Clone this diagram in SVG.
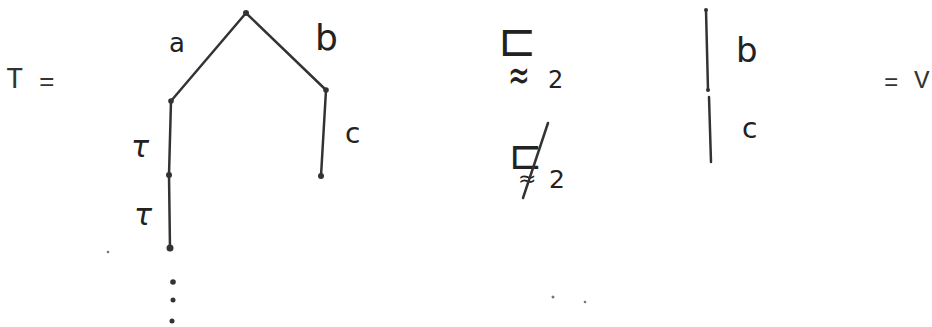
<svg xmlns="http://www.w3.org/2000/svg" width="932" height="327" viewBox="0 0 932 327">
<style>
.typed{font-family:"Liberation Mono",monospace;fill:#333}
.hand{font-family:"DejaVu Sans",sans-serif;fill:#222}
.edge{stroke:#333;stroke-width:2.5;fill:none;stroke-linecap:round}
.dot{fill:#333}
.speck{fill:#777}
</style>
<rect width="932" height="327" fill="#fff"/>
<g id="lhs">
<text class="typed" x="6" y="88" font-size="29">T</text>
<text class="typed" x="39" y="90" font-size="26">=</text>
</g>
<g id="connectors">
<line class="edge" x1="246" y1="13" x2="171" y2="101"/>
<line class="edge" x1="246" y1="13" x2="326" y2="90"/>
<line class="edge" x1="326" y1="90" x2="321" y2="176"/>
<line class="edge" x1="171" y1="101" x2="169" y2="175"/>
<line class="edge" x1="169" y1="175" x2="170" y2="249"/>
<line class="edge" x1="706" y1="10" x2="708" y2="90" stroke-width="2"/>
<line class="edge" x1="709" y1="97" x2="711" y2="162" stroke-width="3.2"/>
</g>
<g id="root"><circle class="dot" cx="246" cy="13" r="3"/></g>
<g id="n-left"><circle class="dot" cx="171" cy="101" r="2.8"/></g>
<g id="n-right"><circle class="dot" cx="326" cy="90" r="2.8"/></g>
<g id="n-leaf-c"><circle class="dot" cx="321" cy="176" r="3"/></g>
<g id="n-chain1"><circle class="dot" cx="169" cy="175" r="3"/></g>
<g id="n-chain2"><circle class="dot" cx="170" cy="248" r="3.5"/></g>
<g id="ellipsis">
<circle class="dot" cx="173" cy="282" r="2.8"/>
<circle class="dot" cx="173" cy="300" r="2.5"/>
<circle class="dot" cx="172" cy="321" r="2.5"/>
</g>
<g id="labels">
<text class="hand" x="169" y="52" font-size="26">a</text>
<text class="hand" x="315" y="50" font-size="36">b</text>
<text class="hand" x="345" y="143" font-size="28">c</text>
<text class="hand" x="131" y="157" font-size="30" font-style="italic">τ</text>
<text class="hand" x="134" y="225" font-size="30" font-style="italic">τ</text>
</g>
<g id="rel1">
<text class="hand" x="498" y="56" font-size="46">⊏</text>
<text class="hand" transform="translate(508,90) scale(1,1.7)" font-size="26">≈</text>
<text class="hand" x="548" y="88" font-size="24">2</text>
</g>
<g id="rel2">
<text class="hand" x="509" y="169" font-size="40">⊏</text>
<text class="hand" x="518" y="186" font-size="22">≈</text>
<line class="edge" x1="548" y1="123" x2="523" y2="198" stroke-width="2"/>
<text class="hand" x="549" y="188" font-size="25">2</text>
</g>
<g id="path-v">
<circle class="dot" cx="706" cy="10" r="2"/>
<circle class="dot" cx="708" cy="90" r="2"/>
<text class="hand" x="736" y="62" font-size="34">b</text>
<text class="hand" x="742" y="138" font-size="28">c</text>
</g>
<g id="rhs">
<text class="typed" x="884" y="90" font-size="24">=</text>
<text class="typed" x="914" y="88" font-size="26">V</text>
</g>
<g id="specks">
<circle class="speck" cx="108" cy="252" r="1.3"/>
<circle class="speck" cx="553" cy="297" r="1.5"/>
<circle class="speck" cx="585" cy="302" r="1.3"/>
</g>
</svg>
